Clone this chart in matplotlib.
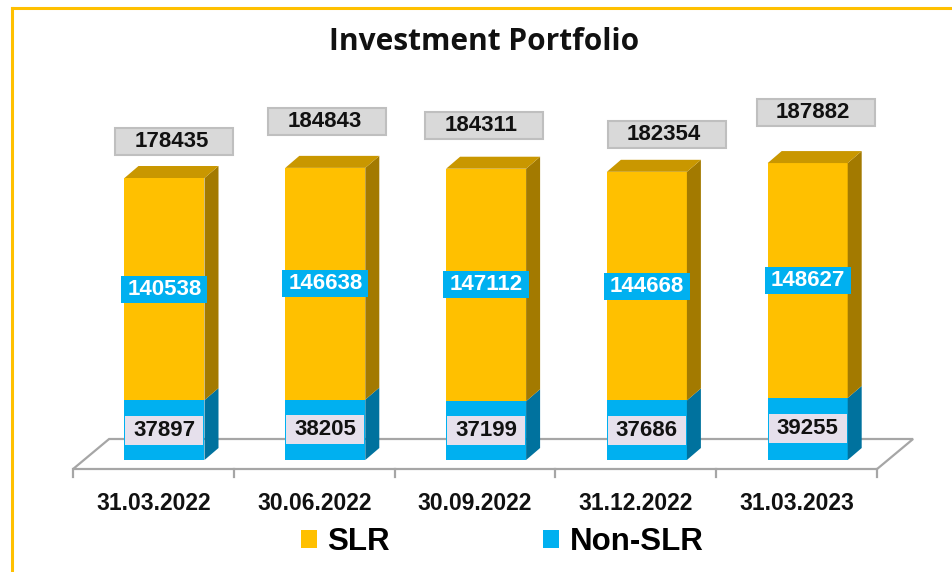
import matplotlib
matplotlib.use("Agg")
import matplotlib.pyplot as plt
from matplotlib.patches import Rectangle, Polygon, Patch
from matplotlib.lines import Line2D

# ---------------- data ----------------
categories = ["31.03.2022", "30.06.2022", "30.09.2022", "31.12.2022", "31.03.2023"]
slr = [140538, 146638, 147112, 144668, 148627]
non_slr = [37897, 38205, 37199, 37686, 39255]
totals = [s + n for s, n in zip(slr, non_slr)]

# ---------------- style ----------------
SLR_FRONT, SLR_SIDE, SLR_TOP = "#FFC000", "#A37A00", "#C99700"
NON_FRONT, NON_SIDE = "#00B0F0", "#00729E"
FLOOR_EDGE = "#A6A6A6"
LBL_FONT = "Liberation Sans"
# manual nudges of total labels (pixels: right, up) relative to bar front top
total_nudge = [(10, 36), (2, 46), (-2, 43), (20, 37), (8, 51)]

W, H = 953, 572
fig = plt.figure(figsize=(W / 100, H / 100), dpi=100)
ax = fig.add_axes([0, 0, 1, 1])
ax.axis("off")

PX = 160.8          # pixels per category
X0 = 153.5          # pixel of first category centre
K = 282 / 178435    # pixels per unit value
Y0 = 460            # pixel row of value 0
ax.set_xlim((0 - X0) / PX, (W - X0) / PX)
ax.set_ylim((Y0 - H) / K, Y0 / K)


def dx(p):
    return p / PX


def dv(p):
    return p / K


# ---------------- floor ----------------
n = len(categories)
fy, by = dv(-9), dv(21)
fdx = dx(36)
floor = Polygon([(-0.5, fy), (n - 0.5, fy), (n - 0.5 + fdx, by), (-0.5 + fdx, by)],
                closed=True, facecolor="white", edgecolor=FLOOR_EDGE, lw=1.6, zorder=1)
ax.add_patch(floor)
for b in range(n + 1):
    ax.plot([b - 0.5, b - 0.5], [fy, dv(-17)], color=FLOOR_EDGE, lw=1.6, zorder=1)

# ---------------- bars ----------------
bw = dx(80)
ddx, ddy = dx(14), dv(12)
for i in range(n):
    xc = i + dx(11)
    l, r = xc - bw / 2, xc + bw / 2
    ns, s, t = non_slr[i], slr[i], totals[i]
    ax.add_patch(Rectangle((l, 0), bw, ns, facecolor=NON_FRONT, edgecolor="none", zorder=3))
    ax.add_patch(Polygon([(r, 0), (r + ddx, ddy), (r + ddx, ns + ddy), (r, ns)],
                         facecolor=NON_SIDE, edgecolor="none", zorder=3))
    ax.add_patch(Rectangle((l, ns), bw, s, facecolor=SLR_FRONT, edgecolor="none", zorder=3))
    ax.add_patch(Polygon([(r, ns), (r + ddx, ns + ddy), (r + ddx, t + ddy), (r, t)],
                         facecolor=SLR_SIDE, edgecolor="none", zorder=3))
    ax.add_patch(Polygon([(l, t), (l + ddx, t + ddy), (r + ddx, t + ddy), (r, t)],
                         facecolor=SLR_TOP, edgecolor="none", zorder=3))

    # SLR label
    bwid, bhgt = dx(86), dv(27)
    yc = ns + s / 2
    ax.add_patch(Rectangle((xc - bwid / 2, yc - bhgt / 2), bwid, bhgt,
                           facecolor=NON_FRONT, edgecolor="none", zorder=4))
    ax.text(xc, yc, f"{s}", ha="center", va="center", color="white", fontsize=16,
            fontweight="bold", family=LBL_FONT, zorder=5)

    # Non-SLR label
    bwid, bhgt = dx(78), dv(29)
    yc = ns / 2
    ax.add_patch(Rectangle((xc - bwid / 2, yc - bhgt / 2), bwid, bhgt,
                           facecolor="#E6E0EC", edgecolor="none", zorder=4))
    ax.text(xc, yc, f"{ns}", ha="center", va="center", color="#111111", fontsize=16,
            fontweight="bold", family=LBL_FONT, zorder=5)

    # total label
    ndx, ndy = total_nudge[i]
    bwid, bhgt = dx(118), dv(27)
    tx, ty = xc + dx(ndx), t + dv(ndy)
    ax.add_patch(Rectangle((tx - bwid / 2, ty - bhgt / 2), bwid, bhgt,
                           facecolor="#D9D9D9", edgecolor="#BFBFBF", lw=1.5, zorder=4))
    ax.text(tx - dx(3), ty, f"{t}", ha="center", va="center", color="#111111", fontsize=16,
            fontweight="bold", family=LBL_FONT, zorder=5)

    # category label
    ax.text(i, dv(-43), categories[i], ha="center", va="center", color="#111111",
            fontsize=16.5, fontweight="bold", family=LBL_FONT, zorder=5)

# ---------------- title ----------------
fig.text(484 / W, 1 - 42 / H, "Investment Portfolio", ha="center", va="center",
         fontsize=21.5, fontweight="bold", family="Open Sans", color="#111111")

# ---------------- legend ----------------
handles = [Patch(facecolor=SLR_FRONT, edgecolor="none", label="SLR"),
           Patch(facecolor=NON_FRONT, edgecolor="none", label="Non-SLR")]
fig.legend(handles=handles, loc="center", bbox_to_anchor=(502 / W, 1 - 542 / H),
           bbox_transform=fig.transFigure, ncol=2, frameon=False,
           prop={"family": LBL_FONT, "weight": "bold", "size": 22.5},
           handlelength=0.52, handleheight=0.52, handletextpad=0.33,
           columnspacing=4.9, borderpad=0, borderaxespad=0)

# ---------------- border ----------------
fig.add_artist(Line2D([12.5 / W, 1], [1 - 7.5 / H, 1 - 7.5 / H], transform=fig.transFigure,
                      color="#FFC000", lw=2.2))
fig.add_artist(Line2D([12.5 / W, 12.5 / W], [0, 1 - 7.5 / H], transform=fig.transFigure,
                      color="#FFC000", lw=2.2))

fig.savefig("out.png", dpi=100)
